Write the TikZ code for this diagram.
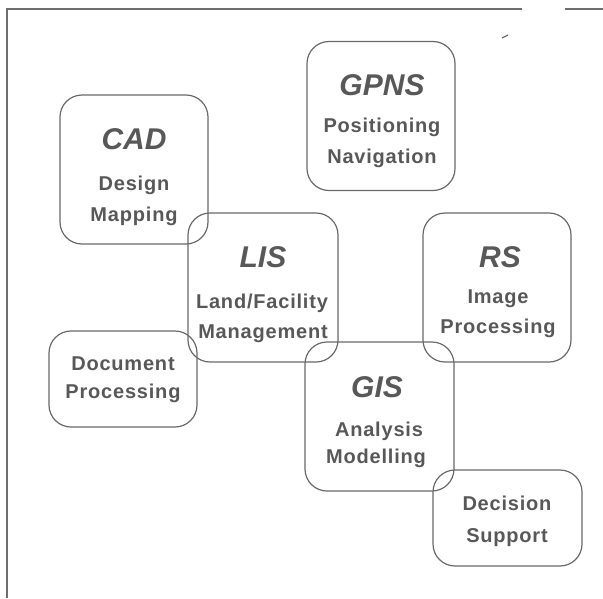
\documentclass[tikz,border=0pt]{standalone}
\usepackage{fontspec}
\setmainfont{Liberation Sans}
\newfontfamily\bodyfont{Liberation Sans}[LetterSpace=4]
\definecolor{txtgray}{RGB}{88,88,88}
\definecolor{linegray}{RGB}{105,105,105}
\definecolor{framegray}{RGB}{110,110,110}
\begin{document}
\begin{tikzpicture}[x=1pt,y=-1pt,
  box/.style={draw=linegray, line width=1.2pt, rounded corners=22pt, inner sep=0pt, minimum width=148pt},
  tall/.style={minimum height=149pt},
  short/.style={minimum height=96pt},
  head/.style={font=\fontsize{30}{30}\selectfont\bfseries\itshape, text=txtgray, inner sep=0pt, anchor=base},
  body/.style={font=\bodyfont\fontsize{20}{20}\selectfont\bfseries, text=txtgray, inner sep=0pt, anchor=base}]
\useasboundingbox (0,0) rectangle (603,598);
% frame
\coordinate (f1) at (7,598);
\coordinate (f2) at (7,9);
\coordinate (f3) at (522,9);
\coordinate (f4) at (565,9);
\coordinate (f5) at (603,9);
\draw[framegray, line width=1.8pt] (f1) -- (f2) -- (f3);
\draw[framegray, line width=1.4pt] (f4) -- (f5);
\coordinate (m1) at (502,38);
\coordinate (m2) at (508,35);
\draw[framegray, line width=1.2pt] (m1) -- (m2);
% boxes
\node[box, tall] (cad)  at (134,169.5) {};
\node[box, tall] (gpns) at (381,116) {};
\node[box, tall, minimum width=150pt] (lis)  at (263,287.5) {};
\node[box, tall] (rs)   at (497,287.5) {};
\node[box, short] (doc) at (123,379) {};
\node[box, tall, minimum width=149pt] (gis)  at (379.5,416.5) {};
\node[box, short, minimum width=149pt] (dec) at (507.5,518) {};
% texts
\node[head] (cadT) at (134,149) {CAD};
\node[body] (cad1) at (134,190) {Design};
\node[body] (cad2) at (134,221) {Mapping};
\node[head] (gpnsT) at (382,95) {GPNS};
\node[body] (gpns1) at (382,132) {Positioning};
\node[body] (gpns2) at (382,163) {Navigation};
\node[head] (lisT) at (263,267) {LIS};
\node[body] (lis1) at (262,308) {Land/Facility};
\node[body] (lis2) at (263,338) {Management};
\node[head] (rsT) at (500,267) {RS};
\node[body] (rs1) at (498,303) {Image};
\node[body] (rs2) at (498,333) {Processing};
\node[head] (gisT) at (377,397) {GIS};
\node[body] (gis1) at (379,436) {Analysis};
\node[body] (gis2) at (376,463) {Modelling};
\node[body] (doc1) at (123,370) {Document};
\node[body] (doc2) at (123,398) {Processing};
\node[body] (dec1) at (507,510) {Decision};
\node[body] (dec2) at (507,542) {Support};
\end{tikzpicture}
\end{document}
